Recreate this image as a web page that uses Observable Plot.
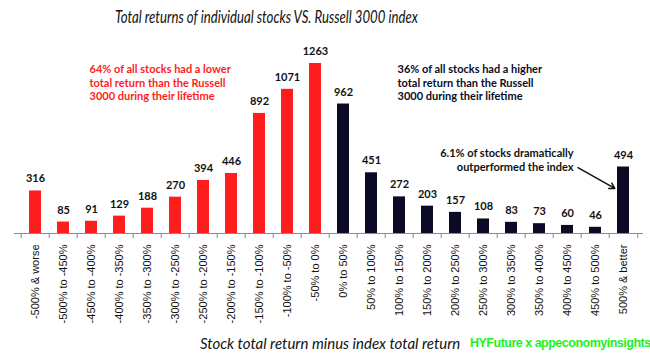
<!DOCTYPE html>
<html><head><meta charset="utf-8">
<script src="https://cdn.jsdelivr.net/npm/d3@7"></script>
<script src="https://cdn.jsdelivr.net/npm/@observablehq/plot@0.6"></script>
<style>
body{margin:0;width:650px;height:359px;position:relative;background:#fff;overflow:hidden;font-family:Lato,sans-serif;color:#111}
#title{position:absolute;top:6px;left:115px;white-space:nowrap;font-style:italic;font-size:17px;line-height:22px;transform:scaleX(0.775);transform-origin:0 0}
#chart{position:absolute;top:34px;left:0}
#xt{position:absolute;left:200px;top:333px;white-space:nowrap;font-style:italic;font-size:15px;line-height:20px}
#credit{position:absolute;left:470px;top:334px;white-space:nowrap;font-family:"Liberation Sans",Arial,sans-serif;font-weight:bold;font-size:12.5px;line-height:18px;color:#1ef01e;letter-spacing:-0.5px}
#chart svg text.val{letter-spacing:-0.5px}
</style></head>
<body>
<div id="title">Total returns of individual stocks VS. Russell 3000 index</div>
<div id="chart"></div>
<div id="xt">Stock total return minus index total return</div>
<div id="credit">HYFuture x appeconomyinsights</div>
<script>
const categories = ["-500% & worse","-500% to -450%","-450% to -400%","-400% to -350%","-350% to -300%","-300% to -250%","-250% to -200%","-200% to -150%","-150% to -100%","-100% to -50%","-50% to 0%","0% to 50%","50% to 100%","100% to 150%","150% to 200%","200% to 250%","250% to 300%","300% to 350%","350% to 400%","400% to 450%","450% to 500%","500% & better"];
const counts = [316,85,91,129,188,270,394,446,892,1071,1263,962,451,272,203,157,108,83,73,60,46,494];
const groups = categories.map((c,i)=> i < 11 ? "lower" : "higher");
const notes = [
  {cat:"-450% to -400%", y:1122, text:"64% of all stocks had a lower\ntotal return than the Russell\n3000 during their lifetime", group:"lower"},
  {cat:"100% to 150%", y:1122, text:"36% of all stocks had a higher\ntotal return than the Russell\n3000 during their lifetime", group:"higher"}
];
const callout = {cat:"400% to 450%", y:602, text:"6.1% of stocks dramatically\noutperformed the index"};
const arrowData = [{from:"400% to 450%", to:"500% & better", y1:533, y2:299}];

const data = categories.map((c,i)=>({cat:c, n:counts[i], group:groups[i]}));
const W = 650, ML = 14, MR = 7;
const step = (W - ML - MR) / categories.length;
const last = categories[categories.length-1];

const plot = Plot.plot({
  width: W, height: 296,
  marginLeft: ML, marginRight: MR, marginTop: 29, marginBottom: 97,
  style: {fontFamily: "Lato, sans-serif", background: "transparent"},
  x: {domain: categories, paddingInner: 0.58, paddingOuter: 0.29, axis: null},
  y: {domain: [0, 1263], axis: null},
  color: {domain: ["lower","higher"], range: ["#ff1c1c","#0b0b26"]},
  marks: [
    Plot.barY(data, {x:"cat", y:"n", fill:"group"}),
    Plot.ruleY([0], {stroke:"#8c8c8c"}),
    Plot.ruleX(categories, {x:d=>d, y1:0, y2:0, insetBottom:-5, dx:-step/2, stroke:"#8c8c8c"}),
    Plot.ruleX([last], {x:d=>d, y1:0, y2:0, insetBottom:-5, dx:step/2, stroke:"#8c8c8c"}),
    Plot.axisX({tickSize:0, tickRotate:-90, tickPadding:11, fontSize:11, fill:"#111", fontFamily:"Liberation Sans, Arial, sans-serif"}),
    Plot.text(data, {x:"cat", y:"n", text:d=>String(d.n), dy:-12, fontWeight:"bold", fontSize:11, fill:"#111", className:"val"}),
    Plot.text(notes, {x:"cat", y:"y", text:"text", fill:"group", textAnchor:"start", dx:-2, lineAnchor:"middle", lineHeight:1.23, fontWeight:"bold", fontSize:11, className:"val"}),
    Plot.text([callout], {x:"cat", y:"y", text:"text", textAnchor:"end", dx:6, lineHeight:1.3, lineAnchor:"top", fontWeight:"bold", fontSize:11, fill:"#111", dy:-6, className:"val"}),
    Plot.arrow(arrowData, {x1:"from", x2:"to", y1:"y1", y2:"y2", bend:0, insetStart:12, insetEnd:10, headLength:6, strokeWidth:1.5, stroke:"#111"})
  ]
});
document.getElementById("chart").appendChild(plot);
</script>
</body></html>
